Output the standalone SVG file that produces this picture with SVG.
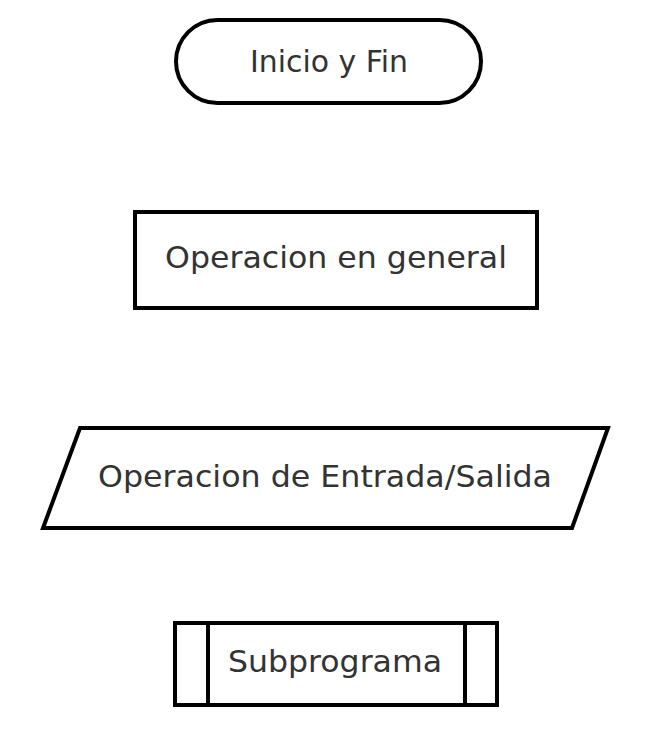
<svg xmlns="http://www.w3.org/2000/svg" width="650" height="738" viewBox="0 0 650 738">
<style>
.s{fill:#fff;stroke:#000;stroke-width:4;stroke-linejoin:miter}
.t{font-family:"DejaVu Sans",Verdana,sans-serif;font-size:30px;fill:#333;text-anchor:middle}
</style>
<rect width="650" height="738" fill="#fff"/>
<g id="inicio">
<rect class="s" x="176" y="20" width="305" height="83" rx="41.5" ry="41.5"/>
<text class="t" x="329" y="72" textLength="158" lengthAdjust="spacingAndGlyphs">Inicio y Fin</text>
</g>
<g id="operacion">
<rect class="s" x="135" y="212" width="402" height="96"/>
<text class="t" x="336" y="268" textLength="342" lengthAdjust="spacingAndGlyphs">Operacion en general</text>
</g>
<g id="entrada-salida">
<polygon class="s" points="80,428 608,428 572,528 43,528"/>
<text class="t" x="325" y="487" textLength="454" lengthAdjust="spacingAndGlyphs">Operacion de Entrada/Salida</text>
</g>
<g id="subprograma">
<rect class="s" x="175" y="623" width="322" height="82"/>
<line class="s" x1="208" y1="623" x2="208" y2="705"/>
<line class="s" x1="465" y1="623" x2="465" y2="705"/>
<text class="t" x="335" y="672" textLength="214" lengthAdjust="spacingAndGlyphs">Subprograma</text>
</g>
<g id="connectors"/>
</svg>
